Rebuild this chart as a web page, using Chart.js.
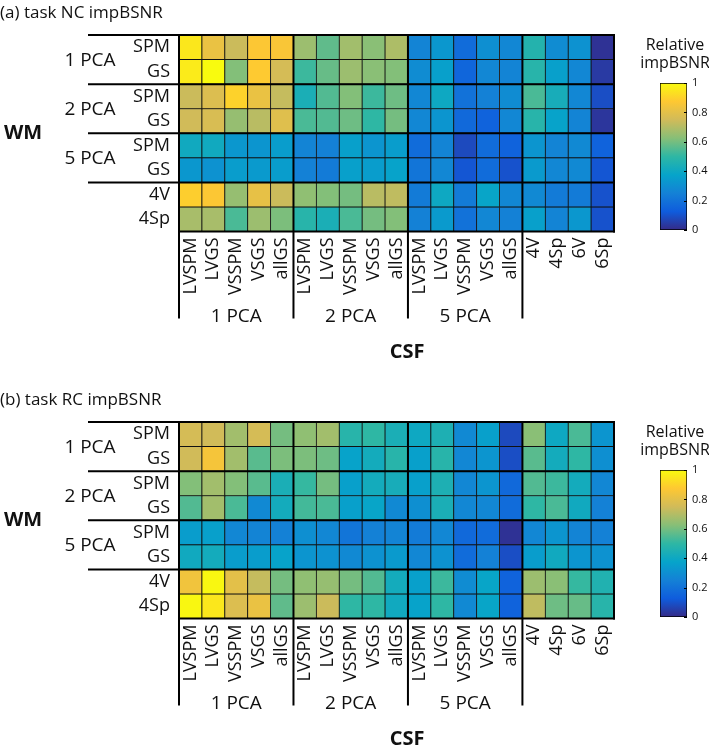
<!DOCTYPE html>
<html>
<head>
<meta charset="utf-8">
<script src="https://cdn.jsdelivr.net/npm/chart.js@4.4.1/dist/chart.umd.min.js"></script>
<style>
  html, body { margin: 0; padding: 0; background: #fff; }
  #wrap { position: relative; width: 709px; height: 748px; overflow: hidden; }
  canvas { position: absolute; }
</style>
</head>
<body>
<div id="wrap">
  <canvas id="heatA" width="709" height="387" style="left:0;top:0"></canvas>
  <canvas id="cbA" width="69" height="175" style="left:640px;top:70px"></canvas>
  <canvas id="heatB" width="709" height="361" style="left:0;top:387px"></canvas>
  <canvas id="cbB" width="69" height="175" style="left:640px;top:457px"></canvas>
</div>
<script>
// ---------------- DATA ----------------
const csfLabels = ['LVSPM','LVGS','VSSPM','VSGS','allGS','LVSPM','LVGS','VSSPM','VSGS','allGS','LVSPM','LVGS','VSSPM','VSGS','allGS','4V','4Sp','6V','6Sp'];
const csfGroups = ['1 PCA','2 PCA','5 PCA'];
const wmLabels = ['SPM','GS','SPM','GS','SPM','GS','4V','4Sp'];
const wmGroups = ['1 PCA','2 PCA','5 PCA'];
const colorbarTicks = [0, 0.2, 0.4, 0.6, 0.8, 1];
const titleA = '(a) task NC impBSNR';
const titleB = '(b) task RC impBSNR';

// (a) task NC — relative impBSNR, rows = WM regressors, columns = CSF regressors
const nc1pcaSPM = [0.95,0.82,0.74,0.87,0.86, 0.66,0.57,0.67,0.63,0.69, 0.26,0.33,0.18,0.30,0.27, 0.47,0.29,0.31,0.02];
const nc1pcaGS  = [0.96,1.00,0.62,0.88,0.76, 0.52,0.58,0.66,0.63,0.62, 0.29,0.36,0.16,0.27,0.26, 0.48,0.36,0.27,0.04];
const nc2pcaSPM = [0.74,0.78,0.90,0.82,0.73, 0.44,0.55,0.62,0.52,0.59, 0.27,0.40,0.20,0.25,0.29, 0.54,0.43,0.27,0.09];
const nc2pcaGS  = [0.75,0.77,0.65,0.71,0.79, 0.54,0.55,0.59,0.50,0.60, 0.27,0.32,0.17,0.15,0.27, 0.48,0.37,0.26,0.03];
const nc5pcaSPM = [0.41,0.41,0.33,0.32,0.35, 0.26,0.25,0.36,0.32,0.35, 0.18,0.26,0.08,0.18,0.15, 0.32,0.26,0.28,0.15];
const nc5pcaGS  = [0.33,0.31,0.35,0.34,0.35, 0.25,0.23,0.36,0.35,0.37, 0.21,0.27,0.11,0.18,0.10, 0.34,0.27,0.28,0.11];
const nc4V      = [0.89,0.87,0.65,0.81,0.74, 0.64,0.62,0.60,0.71,0.72, 0.23,0.40,0.23,0.38,0.27, 0.28,0.23,0.23,0.10];
const nc4Sp     = [0.68,0.68,0.54,0.66,0.61, 0.48,0.44,0.54,0.60,0.62, 0.25,0.34,0.20,0.27,0.25, 0.36,0.26,0.33,0.10];

// (b) task RC
const rc1pcaSPM = [0.76,0.75,0.67,0.76,0.60, 0.64,0.67,0.48,0.50,0.44, 0.40,0.45,0.28,0.36,0.08, 0.63,0.40,0.54,0.32];
const rc1pcaGS  = [0.75,0.85,0.67,0.56,0.61, 0.61,0.59,0.37,0.42,0.48, 0.36,0.48,0.27,0.32,0.09, 0.56,0.42,0.50,0.30];
const rc2pcaSPM = [0.62,0.67,0.62,0.56,0.44, 0.51,0.60,0.36,0.42,0.43, 0.36,0.45,0.27,0.32,0.17, 0.55,0.52,0.42,0.27];
const rc2pcaGS  = [0.55,0.67,0.54,0.28,0.42, 0.53,0.54,0.36,0.38,0.28, 0.30,0.44,0.27,0.27,0.18, 0.50,0.54,0.41,0.25];
const rc5pcaSPM = [0.35,0.36,0.27,0.26,0.25, 0.30,0.27,0.21,0.25,0.26, 0.23,0.27,0.17,0.18,0.02, 0.27,0.32,0.26,0.25];
const rc5pcaGS  = [0.41,0.42,0.35,0.35,0.37, 0.32,0.31,0.28,0.31,0.34, 0.27,0.31,0.18,0.25,0.09, 0.35,0.41,0.32,0.31];
const rc4V      = [0.84,0.99,0.80,0.73,0.60, 0.64,0.65,0.60,0.55,0.42, 0.36,0.52,0.29,0.38,0.15, 0.66,0.63,0.51,0.46];
const rc4Sp     = [0.99,0.95,0.78,0.82,0.57, 0.66,0.74,0.50,0.50,0.41, 0.37,0.50,0.28,0.38,0.15, 0.72,0.59,0.58,0.48];

const ncRows = [nc1pcaSPM, nc1pcaGS, nc2pcaSPM, nc2pcaGS, nc5pcaSPM, nc5pcaGS, nc4V, nc4Sp];
const rcRows = [rc1pcaSPM, rc1pcaGS, rc2pcaSPM, rc2pcaGS, rc5pcaSPM, rc5pcaGS, rc4V, rc4Sp];

// ---------------- COLORMAP (parula) ----------------
const parulaStops = [
  [0.000, [53, 42, 135]],
  [0.125, [15, 92, 221]],
  [0.250, [20, 129, 214]],
  [0.375, [6, 164, 202]],
  [0.500, [46, 183, 164]],
  [0.625, [135, 191, 119]],
  [0.750, [209, 187, 89]],
  [0.875, [254, 200, 50]],
  [1.000, [249, 251, 14]]
];
function parula(v) {
  v = Math.max(0, Math.min(1, v));
  for (let i = 1; i < parulaStops.length; i++) {
    const [t1, c1] = parulaStops[i];
    const [t0, c0] = parulaStops[i - 1];
    if (v <= t1) {
      const f = (v - t0) / (t1 - t0);
      const c = c0.map((a, k) => Math.round(a + (c1[k] - a) * f));
      return `rgb(${c[0]},${c[1]},${c[2]})`;
    }
  }
  return 'rgb(249,251,14)';
}

const FONT = '"Open Sans", "Noto Sans", sans-serif';

// ---------------- HEATMAP ----------------
function makeHeat(id, title, rows, canvasH) {
  const datasets = rows.map((vals, r) => ({
    data: vals.map(() => [r, r + 1]),
    backgroundColor: vals.map(parula),
    borderColor: '#111',
    borderWidth: 0.8,
    borderSkipped: false,
    barPercentage: 1,
    categoryPercentage: 1,
    grouped: false
  }));

  const decor = {
    id: 'decor',
    afterDatasetsDraw(chart) {
      const c = chart.ctx, ca = chart.chartArea;
      const xs = chart.scales.x, ys = chart.scales.y;
      c.save();
      c.strokeStyle = '#000';
      c.lineWidth = 2;
      c.lineCap = 'butt';
      const line = (x1, y1, x2, y2) => { c.beginPath(); c.moveTo(x1, y1); c.lineTo(x2, y2); c.stroke(); };
      // horizontal group lines (extend into the WM label column)
      [0, 2, 4, 6].forEach(r => { const y = ys.getPixelForValue(r); line(88, y, ca.right + 1, y); });
      line(ca.left, ys.getPixelForValue(8), ca.right + 1, ys.getPixelForValue(8));
      // vertical group lines (extend into the CSF label column)
      [0, 5, 10, 15].forEach(k => { const x = xs.getPixelForValue(k - 0.5); line(x, ca.top - 1, x, ca.bottom + 87); });
      line(ca.right, ca.top - 1, ca.right, ca.bottom + 1);

      c.fillStyle = '#111';
      c.textBaseline = 'middle';
      // WM group labels
      c.font = '19px ' + FONT;
      c.textAlign = 'center';
      wmGroups.forEach((g, i) => c.fillText(g, 90, ys.getPixelForValue(2 * i + 1) + 1));
      // CSF group labels
      csfGroups.forEach((g, i) => {
        const x = (xs.getPixelForValue(5 * i - 0.5) + xs.getPixelForValue(5 * i + 4.5)) / 2;
        c.fillText(g, x, ca.bottom + 85);
      });
      // axis titles
      c.font = 'bold 20px ' + FONT;
      c.textAlign = 'left';
      c.fillText('WM', 4, (ca.top + ca.bottom) / 2);
      c.textAlign = 'center';
      c.fillText('CSF', 407, ca.bottom + 121);
      // panel title
      c.font = '17px ' + FONT;
      c.textAlign = 'left';
      c.fillText(title, 0, 13);
      // colorbar title
      c.font = '16px ' + FONT;
      c.textAlign = 'center';
      c.fillText('Relative', 675, 45);
      c.fillText('impBSNR', 675, 63);
      c.restore();
    }
  };

  return new Chart(document.getElementById(id), {
    type: 'bar',
    data: { labels: csfLabels, datasets },
    plugins: [decor],
    options: {
      responsive: false,
      animation: false,
      devicePixelRatio: 1,
      layout: { padding: { top: 35, right: 95, left: 0, bottom: 0 } },
      plugins: { legend: { display: false }, tooltip: { enabled: false } },
      scales: {
        x: {
          type: 'category',
          grid: { display: false, drawTicks: false },
          border: { display: false },
          ticks: { autoSkip: false, minRotation: 90, maxRotation: 90, padding: 6, color: '#111', font: { family: FONT, size: 18 } },
          afterFit: s => { s.height = canvasH - 231.5; }
        },
        y: {
          type: 'linear',
          reverse: true,
          min: 0,
          max: 8,
          grid: { display: false, drawTicks: false },
          border: { display: false },
          afterBuildTicks: s => { s.ticks = wmLabels.map((_, i) => ({ value: i + 0.5 })); },
          ticks: { padding: 9, color: '#111', font: { family: FONT, size: 18 }, callback: (v, i) => wmLabels[i] },
          afterFit: s => { s.width = 179; }
        }
      }
    }
  });
}

// ---------------- COLORBAR ----------------
function makeColorbar(id) {
  const tickMarks = {
    id: 'tickMarks',
    afterDatasetsDraw(chart) {
      const c = chart.ctx, ca = chart.chartArea, ys = chart.scales.y;
      c.save();
      c.strokeStyle = '#000';
      c.lineWidth = 1;
      colorbarTicks.forEach(v => {
        const y = Math.round(ys.getPixelForValue(v)) + 0.5;
        c.beginPath(); c.moveTo(ca.right - 3, y); c.lineTo(ca.right, y); c.stroke();
      });
      c.restore();
    }
  };
  return new Chart(document.getElementById(id), {
    type: 'bar',
    data: {
      labels: [''],
      datasets: [{
        data: [[0, 1]],
        backgroundColor: (ctx) => {
          const chart = ctx.chart;
          if (!chart.chartArea) return null;
          const ys = chart.scales.y;
          const g = chart.ctx.createLinearGradient(0, ys.getPixelForValue(0), 0, ys.getPixelForValue(1));
          parulaStops.forEach(([t, c]) => g.addColorStop(t, `rgb(${c[0]},${c[1]},${c[2]})`));
          return g;
        },
        borderColor: '#000',
        borderWidth: 1,
        borderSkipped: false,
        barPercentage: 1,
        categoryPercentage: 1
      }]
    },
    plugins: [tickMarks],
    options: {
      responsive: false,
      animation: false,
      devicePixelRatio: 1,
      layout: { padding: { top: 13, left: 20, right: 0, bottom: 15 } },
      plugins: { legend: { display: false }, tooltip: { enabled: false } },
      scales: {
        x: { display: false },
        y: {
          position: 'right',
          min: 0,
          max: 1,
          grid: { display: false, drawTicks: false },
          border: { display: false },
          afterBuildTicks: s => { s.ticks = colorbarTicks.map(v => ({ value: v })); },
          ticks: { padding: 5, color: '#111', font: { family: FONT, size: 11 }, callback: (v, i) => String(colorbarTicks[i]) },
          afterFit: s => { s.width = 22; }
        }
      }
    }
  });
}

makeHeat('heatA', titleA, ncRows, 387);
makeHeat('heatB', titleB, rcRows, 361);
makeColorbar('cbA');
makeColorbar('cbB');
</script>
</body>
</html>
